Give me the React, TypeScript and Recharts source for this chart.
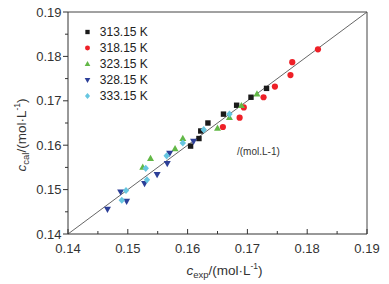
import React from 'react';
import { ScatterChart, Scatter, XAxis, YAxis, ReferenceLine, Legend, Customized } from 'recharts';

const FONT = '"Liberation Sans", Arial, sans-serif';

const axisTicks = [0.14, 0.145, 0.15, 0.155, 0.16, 0.165, 0.17, 0.175, 0.18, 0.185, 0.19];

const exp313 = [0.1732, 0.1706, 0.1682, 0.166, 0.1634, 0.1622, 0.1619, 0.1605];
const cal313 = [0.1728, 0.1708, 0.169, 0.167, 0.165, 0.1632, 0.1615, 0.1598];

const exp318 = [0.1818, 0.1775, 0.1772, 0.1746, 0.1727, 0.1694, 0.1687, 0.1659];
const cal318 = [0.1816, 0.1787, 0.1758, 0.1732, 0.1708, 0.1685, 0.1662, 0.1641];

const exp323 = [0.1716, 0.169, 0.167, 0.165, 0.1592, 0.1579, 0.1538, 0.1525];
const cal323 = [0.1715, 0.1689, 0.1662, 0.1638, 0.1615, 0.1592, 0.157, 0.155];

const exp328 = [0.161, 0.157, 0.1566, 0.1549, 0.1528, 0.1488, 0.1498, 0.1466];
const cal328 = [0.1609, 0.1582, 0.1559, 0.1534, 0.1514, 0.1495, 0.1474, 0.1456];

const exp333 = [0.167, 0.1627, 0.1592, 0.1565, 0.153, 0.1532, 0.1497, 0.149];
const cal333 = [0.167, 0.1635, 0.1605, 0.1576, 0.1548, 0.1522, 0.1498, 0.1476];

const names = ['313.15 K', '318.15 K', '323.15 K', '328.15 K', '333.15 K'];
const colors = ['#1a1a1a', '#ee2027', '#62b846', '#2c3f98', '#66c6e0'];

const toPoints = (xs: number[], ys: number[]) => xs.map((x, i) => ({ x, y: ys[i] }));

const data313 = toPoints(exp313, cal313);
const data318 = toPoints(exp318, cal318);
const data323 = toPoints(exp323, cal323);
const data328 = toPoints(exp328, cal328);
const data333 = toPoints(exp333, cal333);

type Kind = 'square' | 'circle' | 'up' | 'down' | 'diamond';
const kinds: Kind[] = ['square', 'circle', 'up', 'down', 'diamond'];

const Marker = ({ cx, cy, kind, fill, k = 1 }: { cx: number; cy: number; kind: Kind; fill: string; k?: number }) => {
  if (cx == null || cy == null) return null;
  switch (kind) {
    case 'square':
      return <rect x={cx - 2.7 * k} y={cy - 2.7 * k} width={5.4 * k} height={5.4 * k} fill={fill} />;
    case 'circle':
      return <circle cx={cx} cy={cy} r={3.1 * k} fill={fill} />;
    case 'up':
      return (
        <polygon
          points={`${cx},${cy - 3.8 * k} ${cx + 3.5 * k},${cy + 2.4 * k} ${cx - 3.5 * k},${cy + 2.4 * k}`}
          fill={fill}
        />
      );
    case 'down':
      return (
        <polygon
          points={`${cx - 3.5 * k},${cy - 2.4 * k} ${cx + 3.5 * k},${cy - 2.4 * k} ${cx},${cy + 3.8 * k}`}
          fill={fill}
        />
      );
    case 'diamond':
      return (
        <polygon
          points={`${cx},${cy - 3.6 * k} ${cx + 3.2 * k},${cy} ${cx},${cy + 3.6 * k} ${cx - 3.2 * k},${cy}`}
          fill={fill}
        />
      );
  }
  return null;
};

const makeShape = (kind: Kind, fill: string) => (props: any) => (
  <Marker cx={props.cx} cy={props.cy} kind={kind} fill={fill} />
);

const isMajor = (v: number) => Math.abs(v * 100 - Math.round(v * 100)) < 1e-6;

const XTick = (props: any) => {
  const { x, y, payload } = props;
  const v = payload.value as number;
  const major = isMajor(v);
  return (
    <g>
      <line x1={x} x2={x} y1={y} y2={y - (major ? 5 : 3)} stroke="#333" strokeWidth={1} />
      {major && (
        <text x={x} y={y + 18.5} textAnchor="middle" fontSize={13} fontFamily={FONT} fill="#333">
          {v.toFixed(2)}
        </text>
      )}
    </g>
  );
};

const YTick = (props: any) => {
  const { x, y, payload } = props;
  const v = payload.value as number;
  const major = isMajor(v);
  return (
    <g>
      <line x1={x} x2={x - (major ? 5 : 3)} y1={y} y2={y} stroke="#333" strokeWidth={1} />
      {major && (
        <text x={x - 6.5} y={y + 4.6} textAnchor="end" fontSize={13} fontFamily={FONT} fill="#333">
          {v.toFixed(2)}
        </text>
      )}
    </g>
  );
};

const XTitle = (props: any) => {
  const vb = props.viewBox || { x: 68, y: 234, width: 299, height: 50 };
  const cx = vb.x + vb.width / 2 + 7;
  const by = vb.y + 40.5;
  return (
    <text x={cx} y={by} textAnchor="middle" fontSize={13.5} fontFamily={FONT} fill="#333">
      <tspan fontStyle="italic">c</tspan>
      <tspan fontSize={9.5} dy={3.5}>exp</tspan>
      <tspan dy={-3.5}>/(mol·L</tspan>
      <tspan fontSize={8.5} dy={-5.5}>-1</tspan>
      <tspan dy={5.5}>)</tspan>
    </text>
  );
};

const YTitle = (props: any) => {
  const px = 25.5;
  const py = 135;
  return (
    <text
      x={px}
      y={py}
      transform={`rotate(-90 ${px} ${py})`}
      textAnchor="middle"
      fontSize={13.5}
      fontFamily={FONT}
      fill="#333"
    >
      <tspan fontStyle="italic">c</tspan>
      <tspan fontSize={9.5} dy={3.5}>cal</tspan>
      <tspan dy={-3.5}>/(mol·L</tspan>
      <tspan fontSize={8.5} dy={-5.5}>-1</tspan>
      <tspan dy={5.5}>)</tspan>
    </text>
  );
};

const LegendContent = () => (
  <div style={{ fontFamily: FONT, fontSize: 12, color: '#222', lineHeight: '16px' }}>
    {names.map((n, i) => (
      <div key={n} style={{ display: 'flex', alignItems: 'center', height: 16 }}>
        <svg width={13} height={16} style={{ display: 'block' }}>
          <Marker cx={6.5} cy={8} kind={kinds[i]} fill={colors[i]} k={0.8} />
        </svg>
        <span style={{ marginLeft: 6, whiteSpace: 'nowrap' }}>{n}</span>
      </div>
    ))}
  </div>
);

const Note = () => (
  <text x={237} y={154.5} fontSize={10} fontFamily={FONT} fill="#333">
    /(mol.L-1)
  </text>
);

export default function App() {
  return (
    <div style={{ position: 'absolute', left: 0, top: 0, width: 389, height: 284, background: '#fff' }}>
      <ScatterChart width={389} height={284} margin={{ top: 12, right: 22, bottom: 0, left: 0 }}>
        <XAxis
          type="number"
          dataKey="x"
          domain={[0.14, 0.19]}
          ticks={axisTicks}
          interval={0}
          tickSize={0}
          tickMargin={0}
          tick={<XTick />}
          height={50}
          stroke="#333"
          allowDataOverflow
          label={{ content: <XTitle /> } as any}
        />
        <YAxis
          type="number"
          dataKey="y"
          domain={[0.14, 0.19]}
          ticks={axisTicks}
          interval={0}
          tickSize={0}
          tickMargin={0}
          tick={<YTick />}
          width={68}
          stroke="#333"
          allowDataOverflow
          label={{ content: <YTitle /> } as any}
        />
        <ReferenceLine y={0.19} stroke="#444" strokeWidth={1} />
        <ReferenceLine x={0.19} stroke="#444" strokeWidth={1} />
        <ReferenceLine
          segment={[
            { x: 0.14, y: 0.14 },
            { x: 0.19, y: 0.19 },
          ]}
          stroke="#555"
          strokeWidth={0.9}
        />
        <Scatter name={names[0]} data={data313} fill={colors[0]} shape={makeShape('square', colors[0])} isAnimationActive={false} />
        <Scatter name={names[1]} data={data318} fill={colors[1]} shape={makeShape('circle', colors[1])} isAnimationActive={false} />
        <Scatter name={names[2]} data={data323} fill={colors[2]} shape={makeShape('up', colors[2])} isAnimationActive={false} />
        <Scatter name={names[3]} data={data328} fill={colors[3]} shape={makeShape('down', colors[3])} isAnimationActive={false} />
        <Scatter name={names[4]} data={data333} fill={colors[4]} shape={makeShape('diamond', colors[4])} isAnimationActive={false} />
        <Customized component={Note} />
        <Legend
          layout="vertical"
          align="center"
          verticalAlign="middle"
          content={<LegendContent />}
          wrapperStyle={{ left: 80.8, top: 24.3, width: 110, height: 82 }}
        />
      </ScatterChart>
    </div>
  );
}
